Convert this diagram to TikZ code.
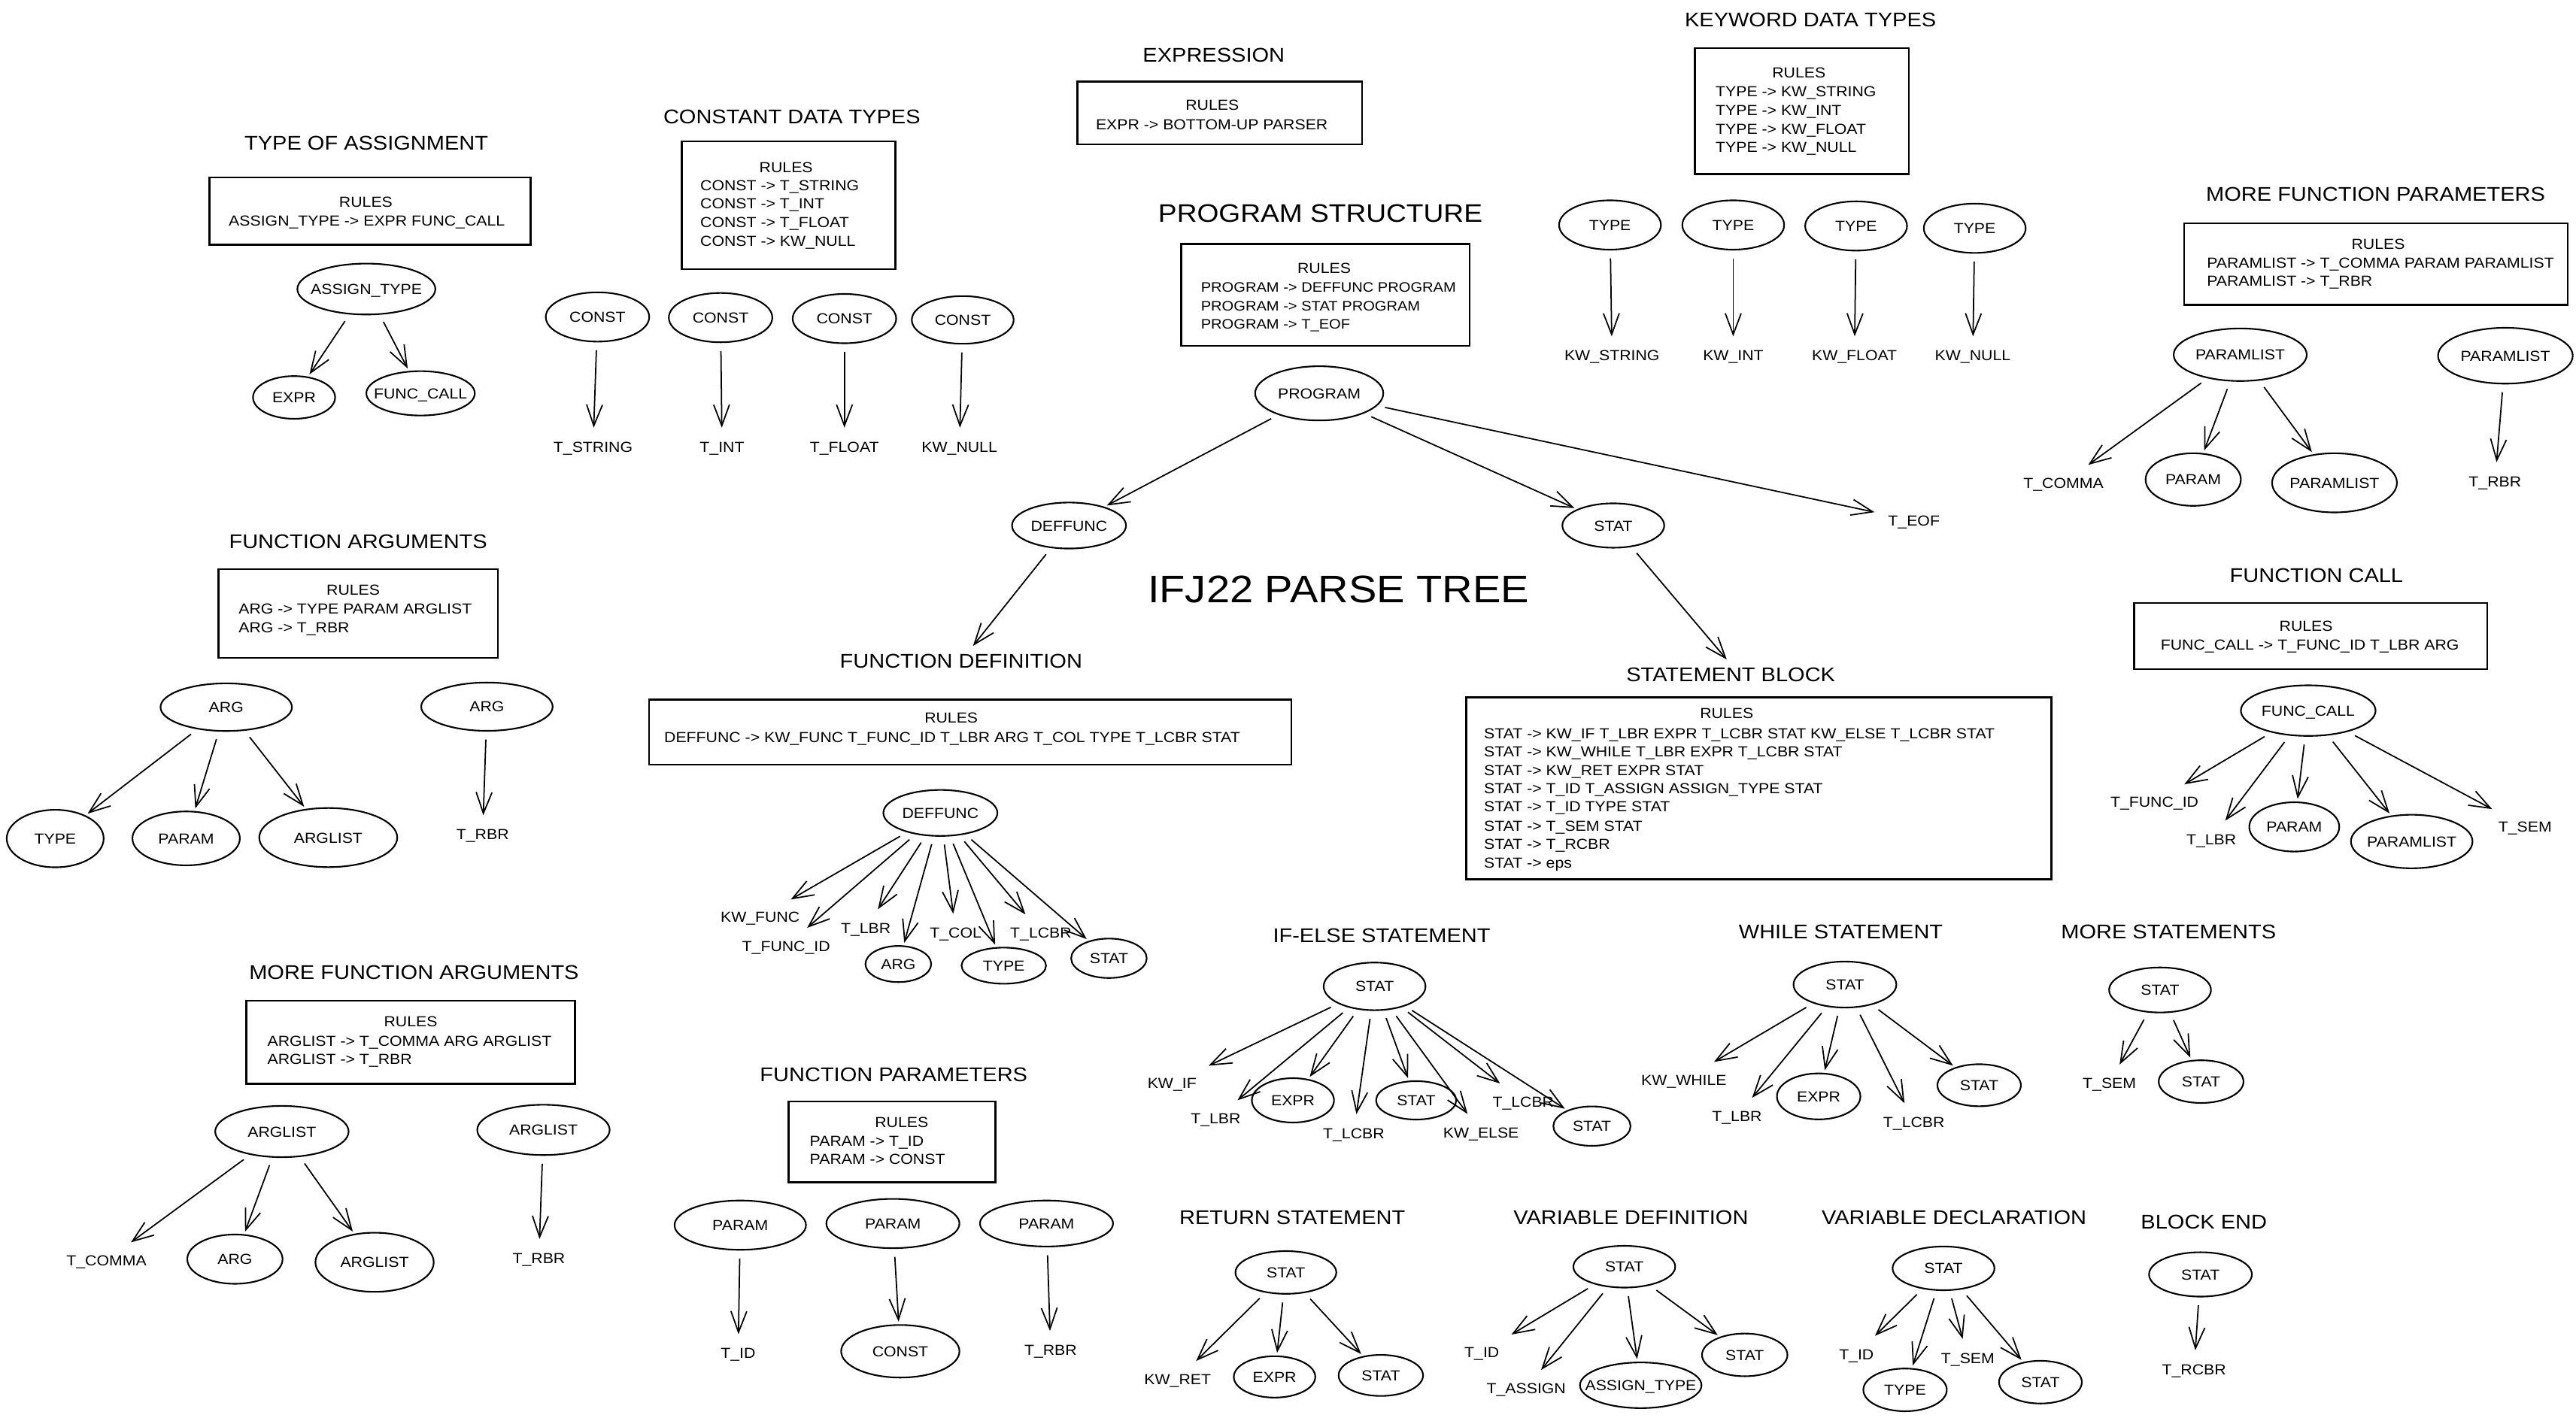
\documentclass[tikz,border=0pt]{standalone}
\usepackage{fontspec}
\setmainfont{Liberation Sans}[FakeStretch=1.1]
\usetikzlibrary{arrows.meta,shapes.geometric}
\begin{document}
\begin{tikzpicture}[x=0.02184cm,y=-0.02184cm,
  every node/.style={font=\fontsize{5.5}{7}\selectfont},
  lbl/.style={inner sep=4pt, text height=4pt, text depth=0pt},
  rl/.style={inner sep=0pt, anchor=west, text height=4pt, text depth=0pt},
  rc/.style={inner sep=0pt, text height=4pt, text depth=0pt},
  ttl/.style={font=\fontsize{7.5}{9}\selectfont, inner sep=2pt, text height=5.4pt, text depth=0pt},
  big/.style={font=\fontsize{9.6}{11}\selectfont, inner sep=0pt},
  huge/.style={font=\fontsize{14.5}{16}\selectfont, inner sep=0pt},
  el/.style 2 args={draw, ellipse, line width=0.6pt, inner sep=0pt, minimum width={2*#1*0.02184cm}, minimum height={2*#2*0.02184cm}, text height=4pt, text depth=0pt,
     execute at begin node={\hbox to 0pt\bgroup\hss}, execute at end node={\hss\egroup}},
  boxn/.style 2 args={draw, rectangle, line width=0.7pt, inner sep=0pt, minimum width={#1*0.02184cm}, minimum height={#2*0.02184cm}},
  arr/.style={-{Straight Barb[length=8pt,width=6pt]}, line width=0.5pt, shorten <=3pt, shorten >=1pt}]
\fill[white] (0,0) rectangle (1568,863.4);
\useasboundingbox (0,0) rectangle (1568,863.4);

% ---------- TYPE OF ASSIGNMENT
\node[ttl] (tA) at (223,87) {TYPE OF ASSIGNMENT};
\node[boxn={195.4}{41}] (bA) at (225.3,128.5) {};
\node[rc] (rA) at (222.7,123) {RULES};
\node[rc] (lA) at (223.3,134.5) {ASSIGN\_TYPE -> EXPR FUNC\_CALL};
\node[el={42}{15.5}] (nA) at (223,176) {ASSIGN\_TYPE};
\node[el={25}{13}] (nA1) at (179,242) {EXPR};
\node[el={33}{13.5}] (nA2) at (256,239.5) {FUNC\_CALL};
\draw[arr] (nA) -- (nA1);
\draw[arr] (nA) -- (nA2);

% ---------- CONSTANT DATA TYPES
\node[ttl] (tC) at (482,71) {CONSTANT DATA TYPES};
\node[boxn={130}{78}] (bC) at (480,125) {};
\node[rc] (rC) at (478.5,101.8) {RULES};
\node[rl] (lC1) at (426,112.7) {CONST -> T\_STRING};
\node[rl] (lC2) at (426,124) {CONST -> T\_INT};
\node[rl] (lC3) at (426,135.5) {CONST -> T\_FLOAT};
\node[rl] (lC4) at (426,146.6) {CONST -> KW\_NULL};
\node[el={31.5}{15}] (c1) at (363.7,193) {CONST};
\node[el={31.5}{15}] (c2) at (438.6,193.4) {CONST};
\node[el={31.5}{15}] (c3) at (514,194) {CONST};
\node[el={31}{14.5}] (c4) at (586,194.8) {CONST};
\node[lbl] (c1t) at (361,272) {T\_STRING};
\node[lbl] (c2t) at (439.5,272) {T\_INT};
\node[lbl] (c3t) at (514,272) {T\_FLOAT};
\node[lbl] (c4t) at (584,272) {KW\_NULL};
\draw[arr] (c1) -- (c1t);
\draw[arr] (c2) -- (c2t);
\draw[arr] (c3) -- (c3t);
\draw[arr] (c4) -- (c4t);

% ---------- EXPRESSION
\node[ttl] (tE) at (738.8,33.6) {EXPRESSION};
\node[boxn={173.3}{38.4}] (bE) at (742.4,68.8) {};
\node[rc] (rE) at (737.9,63.9) {RULES};
\node[rc] (lE) at (737.6,75.7) {EXPR -> BOTTOM-UP PARSER};

% ---------- KEYWORD DATA TYPES
\node[ttl] (tK) at (1102,12) {KEYWORD DATA TYPES};
\node[boxn={130.4}{76.7}] (bK) at (1096.8,67.6) {};
\node[rc] (rK) at (1095,44.3) {RULES};
\node[rl] (lK1) at (1044,55.5) {TYPE -> KW\_STRING};
\node[rl] (lK2) at (1044,66.9) {TYPE -> KW\_INT};
\node[rl] (lK3) at (1044,78.5) {TYPE -> KW\_FLOAT};
\node[rl] (lK4) at (1044,89.7) {TYPE -> KW\_NULL};
\node[el={31}{15}] (k1) at (980,137) {TYPE};
\node[el={31}{15}] (k2) at (1055,137) {TYPE};
\node[el={31}{15}] (k3) at (1129.8,137.6) {TYPE};
\node[el={31}{15}] (k4) at (1202,139) {TYPE};
\node[lbl] (k1t) at (981.2,216.4) {KW\_STRING};
\node[lbl] (k2t) at (1055,216.4) {KW\_INT};
\node[lbl] (k3t) at (1128.8,216.4) {KW\_FLOAT};
\node[lbl] (k4t) at (1200.8,216.4) {KW\_NULL};
\draw[arr] (k1) -- (k1t);
\draw[arr] (k2) -- (k2t);
\draw[arr] (k3) -- (k3t);
\draw[arr] (k4) -- (k4t);

% ---------- PROGRAM STRUCTURE
\node[big] (tP) at (803.7,130) {PROGRAM STRUCTURE};
\node[boxn={175.6}{62.1}] (bP) at (806.8,179.6) {};
\node[rc] (rP) at (806,163) {RULES};
\node[rl, font=\fontsize{5.2}{7}\selectfont] (lP1) at (730.7,174.7) {PROGRAM -> DEFFUNC PROGRAM};
\node[rl, font=\fontsize{5.2}{7}\selectfont] (lP2) at (730.7,186) {PROGRAM -> STAT PROGRAM};
\node[rl, font=\fontsize{5.2}{7}\selectfont] (lP3) at (730.7,197) {PROGRAM -> T\_EOF};
\node[el={39}{16.5}] (pg) at (803,239.5) {PROGRAM};
\node[el={34.7}{14}] (pd) at (650.7,320) {DEFFUNC};
\node[el={31}{13.5}] (ps) at (982,320) {STAT};
\node[lbl] (pe) at (1165,317) {T\_EOF};
\draw[arr] (pg) -- (pd);
\draw[arr] (pg) -- (ps);
\draw[arr] (pg) -- (pe);
\node[huge] (tT) at (814.7,359) {IFJ22 PARSE TREE};

% ---------- FUNCTION DEFINITION
\node[ttl] (tD) at (585,402.4) {FUNCTION DEFINITION};
\node[boxn={391}{39.6}] (bD) at (590.5,445.8) {};
\node[rc] (rD) at (579,437) {RULES};
\node[rl] (lD) at (404,449) {DEFFUNC -> KW\_FUNC T\_FUNC\_ID T\_LBR ARG T\_COL TYPE T\_LCBR STAT};
\node[el={34.7}{14}] (d0) at (572.4,495) {DEFFUNC};
\node[lbl] (d1) at (462.7,558.5) {KW\_FUNC};
\node[lbl] (d2) at (478.5,576) {T\_FUNC\_ID};
\node[lbl] (d3) at (527,565) {T\_LBR};
\node[el={20}{11}] (d4) at (546.8,587) {ARG};
\node[lbl] (d5) at (581.7,568) {T\_COL};
\node[el={25.7}{11}] (d6) at (611,588) {TYPE};
\node[lbl] (d7) at (633.6,568) {T\_LCBR};
\node[el={23}{12}] (d8) at (675,583.5) {STAT};
\draw[arr] (pd) -- (tD);
\foreach \n in {d1,d2,d3,d4,d5,d6,d7,d8} \draw[arr] (d0) -- (\n);

% ---------- STATEMENT BLOCK
\node[ttl] (tS) at (1053.5,410.7) {STATEMENT BLOCK};
\draw[arr] (ps) -- (tS.100);
\node[boxn={356.2}{110.9}] (bS) at (1070.5,480) {};
\node[rc] (rS) at (1051,434) {RULES};
\node[rl] (lS1) at (903,446.4) {STAT -> KW\_IF T\_LBR EXPR T\_LCBR STAT KW\_ELSE T\_LCBR STAT};
\node[rl] (lS2) at (903,457.6) {STAT -> KW\_WHILE T\_LBR EXPR T\_LCBR STAT};
\node[rl] (lS3) at (903,468.8) {STAT -> KW\_RET EXPR STAT};
\node[rl] (lS4) at (903,480) {STAT -> T\_ID T\_ASSIGN ASSIGN\_TYPE STAT};
\node[rl] (lS5) at (903,491) {STAT -> T\_ID TYPE STAT};
\node[rl] (lS6) at (903,502.8) {STAT -> T\_SEM STAT};
\node[rl] (lS7) at (903,514) {STAT -> T\_RCBR};
\node[rl] (lS8) at (903,525.5) {STAT -> eps};

% ---------- MORE FUNCTION PARAMETERS
\node[ttl] (tM) at (1446,118) {MORE FUNCTION PARAMETERS};
\node[boxn={233.5}{49.6}] (bM) at (1446.3,160.8) {};
\node[rc] (rM) at (1447.6,148.6) {RULES};
\node[rl] (lM1) at (1343,159.8) {PARAMLIST -> T\_COMMA PARAM PARAMLIST};
\node[rl] (lM2) at (1343,171) {PARAMLIST -> T\_RBR};
\node[el={40.5}{16}] (m0) at (1363.6,216) {PARAMLIST};
\node[el={41}{17}] (m4) at (1525,216.6) {PARAMLIST};
\node[lbl] (m1) at (1256,294) {T\_COMMA};
\node[el={29}{16}] (m2) at (1335,292) {PARAM};
\node[el={38}{18}] (m3) at (1421,294) {PARAMLIST};
\node[lbl] (m5) at (1518.7,293) {T\_RBR};
\draw[arr] (m0) -- (m1);
\draw[arr] (m0) -- (m2);
\draw[arr] (m0) -- (m3);
\draw[arr] (m4) -- (m5);

% ---------- FUNCTION CALL
\node[ttl] (tF) at (1410,350) {FUNCTION CALL};
\node[boxn={215}{40.5}] (bF) at (1406.5,387.3) {};
\node[rc] (rF) at (1403.7,381) {RULES};
\node[rc] (lF) at (1406,392.5) {FUNC\_CALL -> T\_FUNC\_ID T\_LBR ARG};
\node[el={41}{15.4}] (f0) at (1405,432.7) {FUNC\_CALL};
\node[lbl] (f1) at (1311.4,488.4) {T\_FUNC\_ID};
\node[lbl] (f2) at (1346,511) {T\_LBR};
\node[el={27.4}{15}] (f3) at (1396.5,503.5) {PARAM};
\node[el={37}{16.3}] (f4) at (1468,512.4) {PARAMLIST};
\node[lbl] (f5) at (1537,503.4) {T\_SEM};
\foreach \n in {f1,f2,f3,f4,f5} \draw[arr] (f0) -- (\n);

% ---------- FUNCTION ARGUMENTS
\node[ttl] (tG) at (218,329.6) {FUNCTION ARGUMENTS};
\node[boxn={170}{53.9}] (bG) at (218,373.6) {};
\node[rc] (rG) at (215,359) {RULES};
\node[rl] (lG1) at (145,370.7) {ARG -> TYPE PARAM ARGLIST};
\node[rl] (lG2) at (145,381.9) {ARG -> T\_RBR};
\node[el={40}{14.5}] (g0) at (137.7,430.6) {ARG};
\node[el={40}{14.7}] (g4) at (296.4,430.3) {ARG};
\node[el={29.5}{17.5}] (g1) at (33.6,510.6) {TYPE};
\node[el={32.7}{16.4}] (g2) at (113.3,510.5) {PARAM};
\node[el={42}{18}] (g3) at (199.8,510) {ARGLIST};
\node[lbl] (g5) at (293.8,508) {T\_RBR};
\draw[arr] (g0) -- (g1);
\draw[arr] (g0) -- (g2);
\draw[arr] (g0) -- (g3);
\draw[arr] (g4) -- (g5);

% ---------- MORE FUNCTION ARGUMENTS
\node[ttl] (tH) at (252,592) {MORE FUNCTION ARGUMENTS};
\node[boxn={200}{50.6}] (bH) at (250,634.7) {};
\node[rc] (rH) at (250,622) {RULES};
\node[rl] (lH1) at (162.5,633.6) {ARGLIST -> T\_COMMA ARG ARGLIST};
\node[rl] (lH2) at (162.5,644.8) {ARGLIST -> T\_RBR};
\node[el={40.6}{15.6}] (h0) at (171.6,689) {ARGLIST};
\node[el={40.3}{15.3}] (h4) at (330.8,688) {ARGLIST};
\node[lbl] (h1) at (64.8,767.4) {T\_COMMA};
\node[el={29}{15}] (h2) at (143,766.7) {ARG};
\node[el={36}{18}] (h3) at (228,768.6) {ARGLIST};
\node[lbl] (h5) at (328,766) {T\_RBR};
\draw[arr] (h0) -- (h1);
\draw[arr] (h0) -- (h2);
\draw[arr] (h0) -- (h3);
\draw[arr] (h4) -- (h5);

% ---------- FUNCTION PARAMETERS
\node[ttl] (tJ) at (544,654) {FUNCTION PARAMETERS};
\node[boxn={125.8}{49.2}] (bJ) at (542.9,695.4) {};
\node[rc] (rJ) at (548.8,683.4) {RULES};
\node[rl] (lJ1) at (492.6,694.6) {PARAM -> T\_ID};
\node[rl] (lJ2) at (492.6,705.7) {PARAM -> CONST};
\node[el={40}{15}] (j1) at (450.6,746) {PARAM};
\node[el={40.5}{15}] (j2) at (543.5,745) {PARAM};
\node[el={40.5}{14}] (j3) at (637,745) {PARAM};
\node[lbl] (j1t) at (449.3,824) {T\_ID};
\node[el={36}{16}] (j2t) at (548,822.8) {CONST};
\node[lbl] (j3t) at (639.5,822) {T\_RBR};
\draw[arr] (j1) -- (j1t);
\draw[arr] (j2) -- (j2t);
\draw[arr] (j3) -- (j3t);

% ---------- IF-ELSE STATEMENT
\node[ttl] (tI) at (841,569.5) {IF-ELSE STATEMENT};
\node[el={31}{14.5}] (i0) at (836.7,600.6) {STAT};
\node[lbl] (i1) at (713.4,659.6) {KW\_IF};
\node[lbl] (i2) at (740,681) {T\_LBR};
\node[el={25}{13.5}] (i3) at (787,670) {EXPR};
\node[lbl] (i4) at (824,690) {T\_LCBR};
\node[el={24.4}{11.7}] (i5) at (862,670) {STAT};
\node[lbl] (i6) at (901.5,689.6) {KW\_ELSE};
\node[lbl] (i7) at (927.2,670.7) {T\_LCBR};
\node[el={23.5}{12}] (i8) at (969,685.7) {STAT};
\foreach \n in {i1,i2,i3,i4,i5,i6,i7,i8} \draw[arr] (i0) -- (\n);

% ---------- WHILE STATEMENT
\node[ttl] (tW) at (1120.5,567) {WHILE STATEMENT};
\node[el={31.3}{14}] (w0) at (1123,599.5) {STAT};
\node[lbl] (w1) at (1025,657.4) {KW\_WHILE};
\node[lbl] (w2) at (1057.3,679.7) {T\_LBR};
\node[el={25.4}{14}] (w3) at (1107,667.6) {EXPR};
\node[lbl] (w4) at (1165,683.2) {T\_LCBR};
\node[el={25.4}{12.8}] (w5) at (1204.7,660.8) {STAT};
\foreach \n in {w1,w2,w3,w4,w5} \draw[arr] (w0) -- (\n);

% ---------- MORE STATEMENTS
\node[ttl] (tX) at (1320,567) {MORE STATEMENTS};
\node[el={31}{13.7}] (x0) at (1314.8,602.8) {STAT};
\node[lbl] (x1) at (1284,659.6) {T\_SEM};
\node[el={25.8}{13}] (x2) at (1339.8,658.6) {STAT};
\draw[arr] (x0) -- (x1);
\draw[arr] (x0) -- (x2);

% ---------- RETURN STATEMENT
\node[ttl] (tR) at (786.6,741) {RETURN STATEMENT};
\node[el={30.7}{13}] (r0) at (782.7,774.8) {STAT};
\node[lbl] (r1) at (716.8,839.8) {KW\_RET};
\node[el={24.8}{12.6}] (r2) at (775.8,838.4) {EXPR};
\node[el={25.7}{12.5}] (r3) at (840.5,837.5) {STAT};
\foreach \n in {r1,r2,r3} \draw[arr] (r0) -- (\n);

% ---------- VARIABLE DEFINITION
\node[ttl] (tV) at (992.7,741.3) {VARIABLE DEFINITION};
\node[el={31}{12.7}] (v0) at (988.7,771.3) {STAT};
\node[lbl] (v1) at (902,823.4) {T\_ID};
\node[lbl] (v2) at (929,845.4) {T\_ASSIGN};
\node[el={37}{13.9}] (v3) at (998.7,843.5) {ASSIGN\_TYPE};
\node[el={26}{13}] (v4) at (1062,825) {STAT};
\foreach \n in {v1,v2,v3,v4} \draw[arr] (v0) -- (\n);

% ---------- VARIABLE DECLARATION
\node[ttl] (tY) at (1189.4,741.3) {VARIABLE DECLARATION};
\node[el={31}{13.3}] (y0) at (1183,772.3) {STAT};
\node[lbl] (y1) at (1130,824.5) {T\_ID};
\node[el={25.4}{13}] (y2) at (1159.6,846.3) {TYPE};
\node[lbl] (y3) at (1197.8,826.8) {T\_SEM};
\node[el={25.2}{13}] (y4) at (1242,841.6) {STAT};
\foreach \n in {y1,y2,y3,y4} \draw[arr] (y0) -- (\n);

% ---------- BLOCK END
\node[ttl] (tZ) at (1341.5,744) {BLOCK END};
\node[el={31.3}{13.5}] (z0) at (1339.4,776) {STAT};
\node[lbl] (z1) at (1335.5,833.8) {T\_RCBR};
\draw[arr] (z0) -- (z1);
\end{tikzpicture}
\end{document}
